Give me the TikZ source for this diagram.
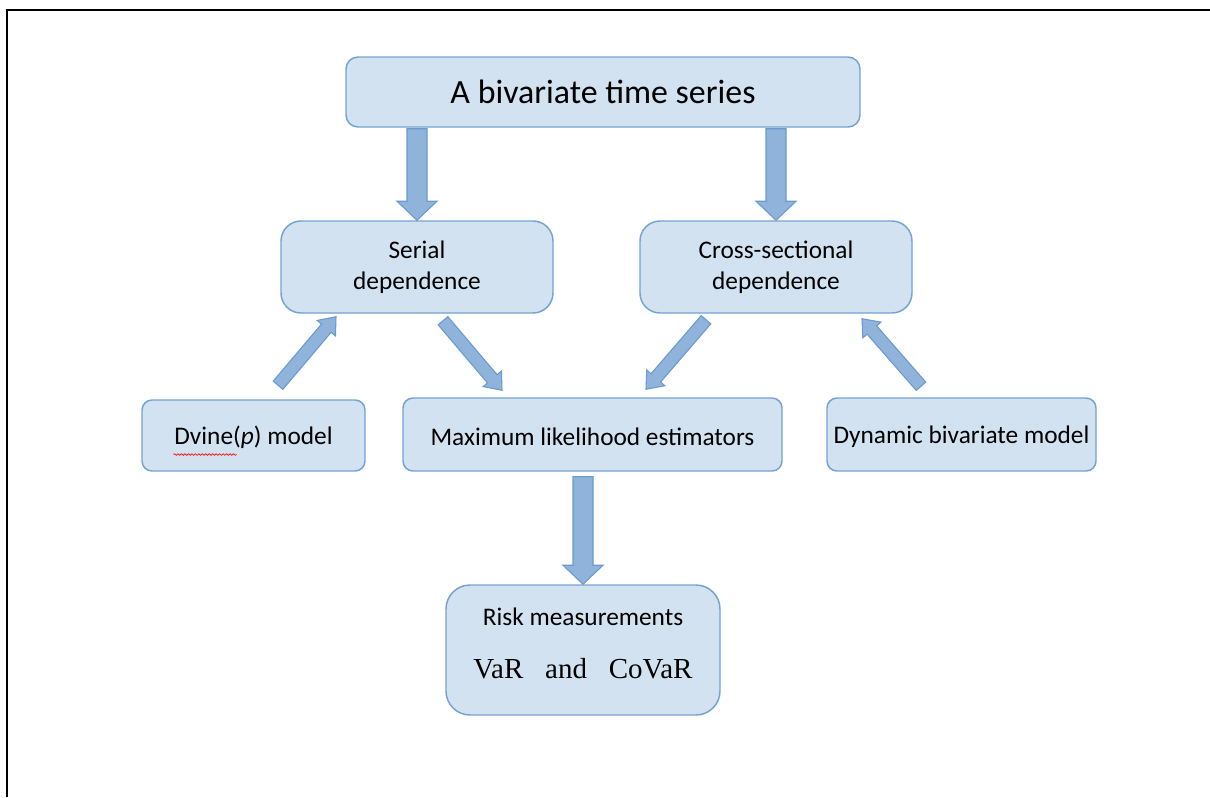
\documentclass[tikz,border=0pt]{standalone}
\usepackage{fontspec}
\setmainfont{Carlito}
\newfontfamily\varfont{Liberation Serif}
\usetikzlibrary{calc}
\usetikzlibrary{decorations.pathmorphing}
\definecolor{boxfill}{RGB}{210,226,241}
\definecolor{boxedge}{RGB}{116,163,210}
\definecolor{arrowfill}{RGB}{143,179,219}
\definecolor{arrowedge}{RGB}{108,154,205}

% block arrow: start, end, half shaft, half head, head length
\newcommand{\fatarrow}[5]{%
  \coordinate (fa1) at (#1);
  \coordinate (fa2) at (#2);
  \coordinate (fah) at ($(fa2)!#5!(fa1)$);
  \path[draw=arrowedge,fill=arrowfill,line width=0.8pt,line join=miter]
    ($(fa1)!#3!90:(fa2)$) -- ($(fah)!#3!90:(fa2)$) -- ($(fah)!#4!90:(fa2)$) -- (fa2)
    -- ($(fah)!#4!-90:(fa2)$) -- ($(fah)!#3!-90:(fa2)$) -- ($(fa1)!#3!-90:(fa2)$) -- cycle;}

\begin{document}
\begin{tikzpicture}[x=0.75pt,y=-0.75pt,
    box/.style={rectangle,rounded corners=9pt,draw=boxedge,fill=boxfill,line width=1.1pt,
      align=center,inner sep=2pt,font=\fontsize{19}{23.5}\selectfont},
    big box/.style={box,rounded corners=15pt,minimum width=204pt,minimum height=69pt},
    flat box/.style={box,rounded corners=7.5pt,minimum height=54.75pt,text height=16pt}]
  \useasboundingbox (0,0) rectangle (1210,797);
  \draw[line width=1.5pt] (7,797) -- (7,10) -- (1210,10);

  \node[box,minimum width=385.5pt,minimum height=52.5pt,font=\fontsize{25.4}{30}\selectfont] (top) at (603,92) {A bivariate time series};
  \node[big box] (serial) at (417,267) {Serial\\dependence};
  \node[big box] (cross) at (776,267) {Cross-sectional\\dependence};
  \node[flat box,minimum width=167.25pt,minimum height=53.25pt] (dvine) at (253.5,435.5) {Dvine(\textit{p}) model};
  \node[flat box,minimum width=284.25pt] (mle) at (592.5,434.5) {Maximum likelihood estimators};
  \node[flat box,minimum width=201.75pt] (dyn) at (961.5,434.5) {Dynamic bivariate model};
  \node[box,rounded corners=18pt,minimum width=205.5pt,minimum height=97.5pt] (risk) at (583,650)
    {Risk measurements\\[16pt]{\varfont\fontsize{21.75}{26}\selectfont VaR~~~and~~~CoVaR\rule[-10.5pt]{0pt}{0pt}}};

  % spell-check squiggle under Dvine
  \draw[red,line width=0.5pt,decorate,decoration={snake,amplitude=0.6pt,segment length=2.6pt}]
    ($(dvine.center)+(-80,19)$) -- ($(dvine.center)+(-17,19)$);

  \fatarrow{$(serial.north |- top.south)+(0,1)$}{serial.north}{7.5pt}{15pt}{14.25pt}
  \fatarrow{$(cross.north |- top.south)+(0,1)$}{cross.north}{7.5pt}{15pt}{14.25pt}
  \fatarrow{$(dvine.north)+(24.5,-14)$}{$(serial.south)+(-81,3)$}{4.75pt}{9pt}{11.25pt}
  \fatarrow{$(serial.south)+(26,7)$}{$(mle.north)+(-90.5,-7)$}{4.75pt}{9pt}{11.25pt}
  \fatarrow{$(cross.south)+(-70,6)$}{$(mle.north)+(53.5,-8)$}{4.75pt}{9pt}{11.25pt}
  \fatarrow{$(dyn.north)+(-40.5,-11)$}{$(cross.south)+(86,5)$}{4.75pt}{9pt}{11.25pt}
  \fatarrow{$(risk.north |- mle.south)+(0,5)$}{risk.north}{7.5pt}{15pt}{14.25pt}
\end{tikzpicture}
\end{document}
